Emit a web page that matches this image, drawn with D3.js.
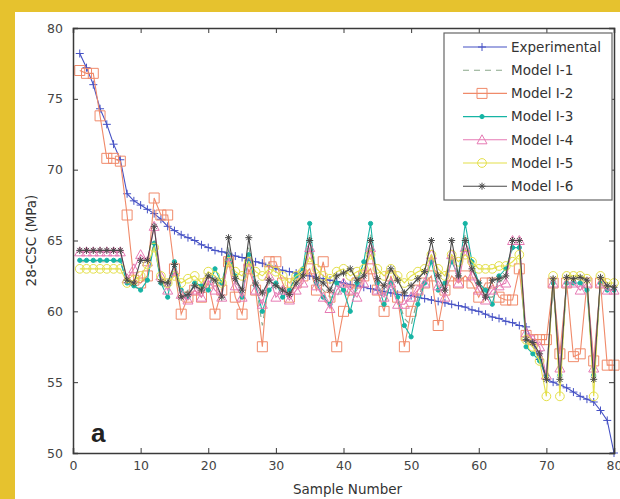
<!DOCTYPE html>
<html>
<head>
<meta charset="utf-8">
<script src="https://cdn.jsdelivr.net/npm/d3@7"></script>
<style>
  body { margin: 0; background: #fff; }
  text { font-family: "DejaVu Sans", "Liberation Sans", Arial, sans-serif; fill: #333; }
</style>
</head>
<body>
<script>
// sample numbers 1..80
var samples = d3.range(1, 81);

var experimental = [78.2,77.2,76.0,74.3,73.2,71.8,70.7,68.3,67.8,67.5,67.2,66.9,66.5,66.0,65.7,65.4,65.2,65.0,64.7,64.5,
  64.3,64.2,64.1,63.9,63.8,63.6,63.5,63.4,63.2,63.0,62.9,62.8,62.7,62.6,62.5,62.4,62.3,62.2,62.1,62.0,
  61.9,61.8,61.7,61.6,61.5,61.4,61.3,61.2,61.1,61.1,61.0,60.9,60.8,60.7,60.6,60.5,60.4,60.3,60.1,60.0,
  59.8,59.6,59.5,59.3,59.2,59.0,58.9,57.8,56.6,55.2,55.0,54.8,54.6,54.3,54.0,53.8,53.6,53.0,52.3,50.0];

var modelI1 = [63.5,63.5,63.5,63.5,63.5,63.5,63.5,62.0,62.0,62.0,62.5,65.0,62.0,61.5,63.0,61.0,61.5,61.8,61.5,62.0,
  62.5,61.5,64.5,62.0,61.5,64.5,62.0,59.0,62.0,62.0,61.5,61.0,62.0,62.5,65.5,62.0,61.5,61.0,61.0,62.0,
  61.0,61.5,62.5,65.5,62.0,61.0,62.5,61.0,59.5,59.0,61.0,62.0,64.0,61.5,61.5,64.0,62.5,65.5,63.0,62.0,
  61.0,61.0,62.0,62.5,64.5,64.5,58.0,57.5,57.0,55.0,62.0,55.0,62.0,62.0,62.0,62.0,55.0,62.0,61.5,61.5];

var modelI2 = [77.0,76.8,76.8,73.8,70.8,70.8,70.6,66.8,62.2,62.0,62.5,68.0,66.8,66.8,63.0,59.8,61.0,61.5,61.0,62.0,
  59.8,61.5,63.5,61.0,59.8,63.0,61.5,57.5,63.5,63.5,62.0,61.0,62.0,62.5,63.0,61.5,63.5,61.0,57.5,60.0,
  61.5,62.0,62.5,63.0,61.5,60.0,62.5,61.0,57.5,60.0,61.5,62.0,62.5,59.0,61.5,62.5,62.0,62.5,62.0,61.0,
  62.0,62.0,61.0,60.8,60.8,63.0,58.3,58.0,58.0,58.0,62.0,57.0,62.0,56.8,57.0,62.0,56.5,62.0,56.2,56.2];

var modelI3 = [63.6,63.6,63.6,63.6,63.6,63.6,63.6,62.0,61.8,61.5,62.2,64.8,62.0,61.0,63.5,61.5,61.0,62.0,61.8,61.5,
  63.0,62.0,64.0,62.5,61.0,64.0,61.8,60.0,61.5,62.0,61.0,61.5,62.5,63.0,66.2,62.0,61.0,60.5,62.0,61.5,
  60.0,62.0,63.5,66.2,62.0,60.5,62.0,61.0,59.0,58.2,60.5,62.0,63.5,61.5,62.0,63.5,62.5,66.2,63.5,62.0,
  61.5,60.5,62.5,63.0,64.5,64.5,57.5,57.0,56.5,55.5,62.0,55.5,62.0,62.0,62.0,61.5,55.5,62.0,61.5,61.5];

var modelI4 = [64.2,64.2,64.2,64.2,64.2,64.2,64.2,62.3,63.0,64.0,63.5,66.0,62.5,61.5,62.8,61.2,60.8,61.5,61.0,62.2,
  61.5,61.0,63.8,61.8,61.0,63.5,61.5,60.5,62.5,61.0,61.5,60.8,61.5,62.0,64.5,61.8,61.0,60.2,61.5,62.0,
  61.5,61.0,62.0,64.5,61.5,61.0,62.0,60.5,60.5,61.0,61.5,62.0,64.0,61.8,61.0,64.0,62.0,64.5,62.5,61.5,
  60.8,61.5,61.8,62.0,65.0,65.0,58.5,58.0,57.5,55.5,62.0,56.0,62.0,62.0,61.5,62.0,56.0,62.0,61.5,61.5];

var modelI5 = [63.0,63.0,63.0,63.0,63.0,63.0,63.0,62.0,62.2,62.5,63.3,64.5,62.5,62.0,62.5,62.0,62.3,62.5,62.0,62.8,
  62.5,62.0,63.5,62.8,62.5,63.5,62.8,62.5,63.0,62.8,62.5,62.0,62.5,62.8,63.8,63.0,62.5,62.3,62.8,63.0,
  62.5,62.8,63.0,64.0,63.0,62.5,63.0,62.5,62.0,62.5,62.8,63.0,64.0,63.0,62.5,64.0,63.5,64.0,63.5,63.0,
  63.0,63.0,63.2,63.2,63.5,64.0,58.0,57.5,56.5,54.0,62.5,54.0,62.5,62.5,62.5,62.3,54.0,62.5,62.0,62.0];

var modelI6 = [64.3,64.3,64.3,64.3,64.3,64.3,64.3,62.2,62.0,63.6,63.6,66.0,62.1,62.0,63.3,61.0,61.2,61.8,61.5,62.5,
  62.2,61.0,65.2,62.3,61.5,65.2,62.0,61.3,62.2,61.8,61.5,61.2,62.0,62.5,65.0,62.3,62.0,61.5,62.5,62.7,
  63.0,62.2,62.5,65.0,62.3,61.8,63.0,62.2,61.3,61.8,62.3,62.8,65.0,62.5,61.5,65.0,62.5,65.0,63.0,62.0,
  61.0,62.2,62.3,62.5,65.0,65.0,58.0,57.8,57.0,55.2,62.3,55.2,62.4,62.3,62.4,62.2,55.2,62.4,61.8,61.7];

var seriesNames = ["Experimental", "Model I-1", "Model I-2", "Model I-3", "Model I-4", "Model I-5", "Model I-6"];
var seriesValues = [experimental, modelI1, modelI2, modelI3, modelI4, modelI5, modelI6];

var xTicks = [0, 10, 20, 30, 40, 50, 60, 70, 80];
var yTicks = [50, 55, 60, 65, 70, 75, 80];

// look of each series (MATLAB style line specs)
var styles = [
  {color: "#4450c4", marker: "plus",     dash: null},
  {color: "#8aa88a", marker: "none",     dash: "6,5"},
  {color: "#f08a6a", marker: "square",   dash: null},
  {color: "#16b4a4", marker: "dot",      dash: null},
  {color: "#e67ab4", marker: "triangle", dash: null},
  {color: "#e4e04a", marker: "circle",   dash: null},
  {color: "#4a4a4a", marker: "star",     dash: null}
];

var margin = {top: 28, right: 6, bottom: 46, left: 73},
    width = 620 - margin.left - margin.right,
    height = 499 - margin.top - margin.bottom;

var x = d3.scaleLinear().domain([0, 80]).range([0, width]);
var y = d3.scaleLinear().domain([50, 80]).range([height, 0]);

var root = d3.select("body").append("svg")
    .attr("width", 620)
    .attr("height", 499);

// yellow page frame
root.append("rect").attr("width", 620).attr("height", 499).attr("fill", "#fff");
root.append("rect").attr("width", 620).attr("height", 12).attr("fill", "#e6c22e");
root.append("rect").attr("width", 15).attr("height", 499).attr("fill", "#e6c22e");

var svg = root.append("g")
    .attr("transform", "translate(" + margin.left + "," + margin.top + ")");

function markerPath(type) {
  switch (type) {
    case "plus": return "M-4,0H4M0,-4V4";
    case "square": return "M-5,-5H5V5H-5Z";
    case "triangle": return "M0,-5L5,4H-5Z";
    case "circle": return d3.symbol().type(d3.symbolCircle).size(60)();
    case "dot": return d3.symbol().type(d3.symbolCircle).size(14)();
    case "star": return "M-3.5,0H3.5M0,-3.5V3.5M-2.5,-2.5L2.5,2.5M-2.5,2.5L2.5,-2.5";
  }
  return null;
}

var line = d3.line()
    .x(function(d, i) { return x(samples[i]); })
    .y(function(d) { return y(d); });

seriesValues.forEach(function(vals, k) {
  var st = styles[k];
  svg.append("path")
      .datum(vals)
      .attr("fill", "none")
      .attr("stroke", st.color)
      .attr("stroke-width", 1.1)
      .attr("stroke-dasharray", st.dash)
      .attr("d", line);
  var mp = markerPath(st.marker);
  if (mp) {
    var filled = st.marker === "dot";
    svg.append("g").selectAll("path")
        .data(vals)
      .enter().append("path")
        .attr("transform", function(d, i) { return "translate(" + x(samples[i]) + "," + y(d) + ")"; })
        .attr("d", mp)
        .attr("fill", filled ? st.color : "none")
        .attr("stroke", st.color)
        .attr("stroke-width", 1);
  }
});

// axes, ticks pointing inwards, box on
var axisColor = "#3a3a3a";
function styleAxis(g) {
  g.select(".domain").attr("stroke", axisColor).attr("stroke-width", 1.5);
  g.selectAll(".tick line").attr("stroke", axisColor);
  g.selectAll(".tick text").style("font-size", "12.5px").style("fill", "#444")
      .style("font-family", "'DejaVu Sans', sans-serif");
}
svg.append("g")
    .attr("transform", "translate(0," + height + ")")
    .call(d3.axisBottom(x).tickValues(xTicks).tickSize(-5).tickPadding(8))
    .call(styleAxis);
svg.append("g")
    .call(d3.axisTop(x).tickValues(xTicks).tickSize(-5).tickFormat(""))
    .call(styleAxis);
svg.append("g")
    .call(d3.axisLeft(y).tickValues(yTicks).tickSize(-5).tickPadding(10))
    .call(styleAxis);
svg.append("g")
    .attr("transform", "translate(" + width + ",0)")
    .call(d3.axisRight(y).tickValues(yTicks).tickSize(-5).tickFormat(""))
    .call(styleAxis);

// axis titles
svg.append("text")
    .attr("x", width / 2 + 4)
    .attr("y", height + 41)
    .attr("text-anchor", "middle")
    .style("font-size", "13.5px")
    .text("Sample Number");
svg.append("text")
    .attr("transform", "translate(" + (-37) + "," + (height / 2) + ") rotate(-90)")
    .attr("text-anchor", "middle")
    .style("font-size", "13.5px")
    .text("28-CSC (MPa)");

// panel letter
svg.append("text")
    .attr("x", 18)
    .attr("y", height - 11)
    .style("font-size", "26px")
    .style("font-weight", "bold")
    .style("font-family", "'Liberation Sans', Arial, sans-serif")
    .style("fill", "#222")
    .text("a");

// legend
var legend = svg.append("g").attr("transform", "translate(" + (444 - margin.left) + "," + (33 - margin.top) + ")");
legend.append("rect")
    .attr("width", 168)
    .attr("height", 167)
    .attr("fill", "#fff")
    .attr("stroke", "#666")
    .attr("stroke-width", 1.2);
seriesNames.forEach(function(name, k) {
  var st = styles[k];
  var row = legend.append("g").attr("transform", "translate(0," + (14 + k * 23.2) + ")");
  row.append("line")
      .attr("x1", 19).attr("x2", 63)
      .attr("stroke", st.color)
      .attr("stroke-width", 1.1)
      .attr("stroke-dasharray", st.dash);
  var mp = markerPath(st.marker);
  if (mp) {
    row.append("path")
        .attr("transform", "translate(38,0)")
        .attr("d", mp)
        .attr("fill", st.marker === "dot" ? st.color : "none")
        .attr("stroke", st.color);
  }
  row.append("text")
      .attr("x", 67)
      .attr("dy", "0.35em")
      .style("font-size", "13.5px")
      .text(name);
});
</script>
</body>
</html>
